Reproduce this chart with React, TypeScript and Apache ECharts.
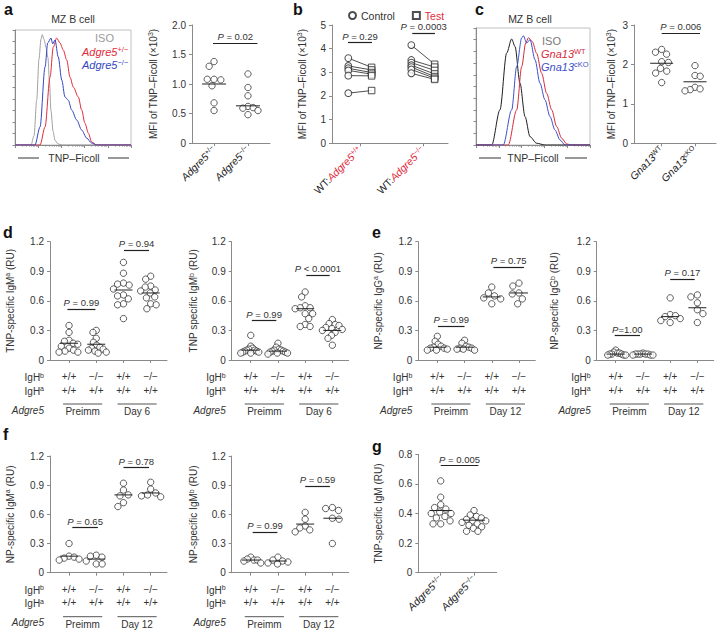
import React, { useEffect, useRef } from 'react';
import * as echarts from 'echarts';

const FONT = '"Liberation Sans", Arial, Helvetica, sans-serif';
const AXIS = '#8a8a8a';
const TXT = '#333333';
const INK = '#222222';
const RED = '#e02a3a';
const BLUE = '#3346c2';

// ---------- histogram data (x: % of channel range, y: % of mode) ----------
const histA_iso = [[0,0],[13.8,0],[16.4,8],[18.7,39],[20.7,75],[22.4,92],[23.5,96],[25,92],[26.7,85],[28.4,76],[29.7,55],[31,30],[32.8,12],[34.5,4],[37,1],[40.5,0],[100,0]];
const histA_het = [[0,0],[21.6,0],[25.9,15.7],[30.2,59],[33,85],[35.9,93],[38.8,88.7],[41.6,82.6],[44.6,74],[47.4,59],[50.3,50.4],[54.6,41.7],[57.5,30.4],[60.3,19],[63.2,10.4],[66.1,2.6],[70.4,0],[100,0]];
const histA_ko = [[0,0],[17.2,0],[21.6,15.7],[25.9,67.8],[28.2,88.7],[31,93],[32.5,88],[34.5,91.3],[37.3,76.5],[40.3,56.5],[43.1,41.7],[45.9,39],[48.9,30.4],[53.2,21.7],[57.5,13],[61.8,6],[66.1,1.7],[70.4,0],[100,0]];
const histC_iso = [[0,0],[13.8,0],[21,30],[26.9,78.6],[31.3,90.6],[34.2,84.2],[38.6,52.9],[43,24.3],[47.4,7.1],[53.2,1.5],[60.5,0],[100,0]];
const histC_wt = [[0,0],[28.3,0],[35.7,30],[40.1,67.1],[43.6,87.1],[46,91.7],[49.4,88.3],[53.2,78.4],[57.6,61.3],[62,44.1],[66.4,30],[70.8,15.7],[75.2,5.7],[79.6,0.9],[84,0],[100,0]];
const histC_cko = [[0,0],[23.9,0],[31.3,30],[35.7,67.1],[40.1,91.5],[41.5,93.4],[44.5,87.1],[47.4,90],[51.8,72.8],[56.1,52.9],[60.5,38.6],[64.9,24.3],[69.3,12.8],[73.7,4.3],[78.1,0],[100,0]];

// ---------- panel a ----------
const aLabels = ['{i|Adgre5}{is|+/−}', '{i|Adgre5}{is|−/−}'];
const aHet = [1.38, 1.30, 1.08, 1.07, 1.08, 0.97, 0.68, 0.55];
const aKo = [1.17, 0.94, 0.80, 0.62, 0.60, 0.59, 0.55, 0.48];
const aMeans = [1.0, 0.63];

// ---------- panel b (paired) ----------
const bLabels = ['{k|WT:}{r|Adgre5}{rs|+/+}', '{k|WT:}{r|Adgre5}{rs|−/−}'];
const bCtrl1 = [3.60, 3.27, 3.17, 3.08, 2.86, 2.12];
const bTest1 = [3.21, 3.10, 2.99, 2.92, 2.85, 2.23];
const bCtrl2 = [4.15, 3.52, 3.41, 3.30, 3.22, 3.12, 2.96];
const bTest2 = [3.34, 3.22, 3.08, 2.93, 2.82, 2.75, 2.70];

// ---------- panel c ----------
const cLabels = ['{i|Gna13}{is|WT}', '{i|Gna13}{is|cKO}'];
const cWt = [2.38, 2.31, 2.26, 2.07, 2.05, 1.90, 1.83, 1.78, 1.54];
const cKo = [1.97, 1.72, 1.70, 1.42, 1.38, 1.36, 1.33];
const cMeans = [2.03, 1.56];

// ---------- table rows ----------
const igHb = ['+/+', '−/−', '+/+', '−/−'];
const igHa = ['+/+', '+/+', '+/+', '+/+'];
const timesD = ['Preimm', 'Day 6'];
const times12 = ['Preimm', 'Day 12'];

// ---------- panel d ----------
const d1Pre = [0.35, 0.28, 0.20, 0.19, 0.17, 0.16, 0.14, 0.12, 0.10, 0.09, 0.08, 0.08];
const d1PreKo = [0.30, 0.28, 0.22, 0.18, 0.15, 0.13, 0.12, 0.11, 0.10, 0.09, 0.08, 0.07];
const d1Day = [0.99, 0.88, 0.78, 0.77, 0.76, 0.72, 0.66, 0.65, 0.62, 0.57, 0.56, 0.42];
const d1DayKo = [0.85, 0.82, 0.75, 0.74, 0.71, 0.70, 0.68, 0.64, 0.63, 0.57, 0.56, 0.52];
const d1Means = [0.17, 0.16, 0.71, 0.68];
const d2Pre = [0.25, 0.14, 0.12, 0.11, 0.10, 0.10, 0.09, 0.09, 0.08, 0.08, 0.07, 0.07];
const d2PreKo = [0.17, 0.13, 0.11, 0.10, 0.10, 0.09, 0.09, 0.08, 0.08, 0.07, 0.07, 0.06];
const d2Day = [0.69, 0.64, 0.55, 0.53, 0.53, 0.52, 0.47, 0.47, 0.42, 0.36, 0.34, 0.34];
const d2DayKo = [0.41, 0.37, 0.36, 0.35, 0.33, 0.32, 0.31, 0.30, 0.28, 0.25, 0.22, 0.15];
const d2Means = [0.10, 0.09, 0.52, 0.30];

// ---------- panel e ----------
const e1Pre = [0.24, 0.19, 0.16, 0.14, 0.13, 0.12, 0.12, 0.11, 0.10, 0.10];
const e1PreKo = [0.20, 0.17, 0.14, 0.13, 0.12, 0.12, 0.11, 0.11, 0.10];
const e1Day = [0.74, 0.68, 0.65, 0.63, 0.62, 0.57];
const e1DayKo = [0.78, 0.75, 0.68, 0.67, 0.62, 0.57];
const e1Means = [0.13, 0.13, 0.64, 0.68];
const e2Pre = [0.10, 0.08, 0.07, 0.07, 0.06, 0.06, 0.06, 0.05, 0.05, 0.05];
const e2PreKo = [0.07, 0.06, 0.06, 0.06, 0.06, 0.06, 0.05, 0.05, 0.05];
const e2Day = [0.63, 0.46, 0.45, 0.44, 0.42, 0.40, 0.38];
const e2DayKo = [0.66, 0.64, 0.58, 0.51, 0.47, 0.38];
const e2Means = [0.06, 0.06, 0.44, 0.53];

// ---------- panel f ----------
const f1Pre = [0.30, 0.17, 0.16, 0.15, 0.14, 0.13];
const f1PreKo = [0.18, 0.17, 0.16, 0.12, 0.09, 0.09];
const f1Day = [0.92, 0.85, 0.80, 0.79, 0.72, 0.68];
const f1DayKo = [0.93, 0.86, 0.82, 0.80, 0.79, 0.78];
const f1Means = [0.17, 0.14, 0.80, 0.82];
const f2Pre = [0.16, 0.14, 0.13, 0.13, 0.12, 0.10];
const f2PreKo = [0.16, 0.13, 0.12, 0.11, 0.10, 0.09];
const f2Day = [0.62, 0.55, 0.48, 0.46, 0.44, 0.42];
const f2DayKo = [0.67, 0.66, 0.64, 0.56, 0.55, 0.30];
const f2Means = [0.13, 0.12, 0.50, 0.56];

// ---------- panel g ----------
const gLabels = ['{i|Adgre5}{is|+/−}', '{i|Adgre5}{is|−/−}'];
const gHet = [0.62, 0.51, 0.46, 0.44, 0.43, 0.41, 0.40, 0.40, 0.38, 0.37, 0.35, 0.33, 0.33];
const gKo = [0.42, 0.39, 0.38, 0.37, 0.36, 0.35, 0.35, 0.34, 0.33, 0.32, 0.31, 0.30, 0.28, 0.28];
const gMeans = [0.42, 0.355];

const RICH: any = {
  n: { fontFamily: FONT, fontSize: 10, color: TXT, lineHeight: 12 },
  s: { fontFamily: FONT, fontSize: 7, color: TXT, lineHeight: 7, verticalAlign: 'top' },
  i: { fontFamily: FONT, fontSize: 10.5, color: INK, fontStyle: 'italic', lineHeight: 12 },
  is: { fontFamily: FONT, fontSize: 7, color: INK, lineHeight: 7, verticalAlign: 'top' },
  k: { fontFamily: FONT, fontSize: 10.5, color: INK, lineHeight: 12 },
  r: { fontFamily: FONT, fontSize: 10.5, color: RED, fontStyle: 'italic', lineHeight: 12 },
  rs: { fontFamily: FONT, fontSize: 7, color: RED, lineHeight: 7, verticalAlign: 'top' },
  t: { fontFamily: FONT, fontSize: 10, color: TXT, lineHeight: 13.5 },
  pi: { fontFamily: FONT, fontSize: 9.5, color: TXT, fontStyle: 'italic' },
  pn: { fontFamily: FONT, fontSize: 9.5, color: TXT },
};

type PVal = { x1: number; x2: number; y: number; t: string };
type Panel = {
  left: number; top: number; width: number; height: number;
  xMin: number; xMax: number; yMax: number; yInt: number; yDec: number;
  groups: number[][]; means: number[]; hw: number; spread: number;
  yName: string; nameGap: number; labels: string[]; rotate: number; margin: number;
  pvals: PVal[]; paired?: boolean; times?: string[];
};

const MFI = '{n|MFI of TNP–Ficoll (×10}{s|3}{n|)}';
const tableLabels = igHb.map((b, i) => `{t|${b}}\n{t|${igHa[i]}}`);

const P4 = { width: 117, xMin: -0.7, xMax: 3.6, yMax: 1.2, yInt: 0.3, yDec: 1, hw: 9, spread: 10, rotate: 0, margin: 10, labels: tableLabels };

const panels: Panel[] = [
  { left: 192, top: 25, width: 78, height: 118, xMin: -0.65, xMax: 1.65, yMax: 2, yInt: 0.5, yDec: 1,
    groups: [aHet, aKo], means: aMeans, hw: 12, spread: 10, yName: MFI, nameGap: 33, labels: aLabels, rotate: 45, margin: 5,
    pvals: [{ x1: -0.03, x2: 1.28, y: 1.695, t: ' = 0.02' }] },
  { left: 332, top: 25, width: 116, height: 118.3, xMin: -0.444, xMax: 1.397, yMax: 5, yInt: 1, yDec: 0,
    groups: [], means: [], hw: 0, spread: 0, yName: MFI, nameGap: 24, labels: bLabels, rotate: 45, margin: 5, paired: true,
    pvals: [{ x1: -0.19, x2: 0.19, y: 4.25, t: ' = 0.29' }, { x1: 0.83, x2: 1.19, y: 4.65, t: ' = 0.0003' }] },
  { left: 634, top: 25, width: 82, height: 118.3, xMin: -0.83, xMax: 1.63, yMax: 3, yInt: 1, yDec: 0,
    groups: [cWt, cKo], means: cMeans, hw: 11.5, spread: 10, yName: MFI, nameGap: 17, labels: cLabels, rotate: 45, margin: 5,
    pvals: [{ x1: 0, x2: 1.15, y: 2.79, t: ' = 0.006' }] },
  { ...P4, left: 50, top: 241.7, height: 118.3, groups: [d1Pre, d1PreKo, d1Day, d1DayKo], means: d1Means,
    yName: '{n|TNP-specific IgM}{s|a}{n| (RU)}', nameGap: 34, times: timesD,
    pvals: [{ x1: -0.06, x2: 0.97, y: 0.514, t: ' = 0.99' }, { x1: 2.02, x2: 2.94, y: 1.116, t: ' = 0.94' }] },
  { ...P4, left: 231.7, top: 241.7, height: 118.3, groups: [d2Pre, d2PreKo, d2Day, d2DayKo], means: d2Means,
    yName: '{n|TNP specific IgM}{s|b}{n| (RU)}', nameGap: 32, times: timesD,
    pvals: [{ x1: 0.04, x2: 0.94, y: 0.399, t: ' = 0.99' }, { x1: 2.04, x2: 2.9, y: 0.862, t: ' < 0.0001' }] },
  { ...P4, left: 418.3, top: 241.7, height: 118.3, groups: [e1Pre, e1PreKo, e1Day, e1DayKo], means: e1Means,
    yName: '{n|NP-specific IgG}{s|a}{n| (RU)}', nameGap: 34, times: times12,
    pvals: [{ x1: 0.02, x2: 1.0, y: 0.345, t: ' = 0.99' }, { x1: 2.06, x2: 3.18, y: 0.94, t: ' = 0.75' }] },
  { ...P4, left: 596.7, top: 241.7, height: 118.3, groups: [e2Pre, e2PreKo, e2Day, e2DayKo], means: e2Means,
    yName: '{n|NP-specific IgG}{s|b}{n| (RU)}', nameGap: 36, times: times12,
    pvals: [{ x1: -0.04, x2: 0.89, y: 0.246, t: '=1.00' }, { x1: 2.0, x2: 2.9, y: 0.822, t: ' = 0.17' }] },
  { ...P4, left: 50, top: 456, height: 116.7, groups: [f1Pre, f1PreKo, f1Day, f1DayKo], means: f1Means,
    yName: '{n|NP-specific IgM}{s|a}{n| (RU)}', nameGap: 34, times: times12,
    pvals: [{ x1: 0.12, x2: 1.06, y: 0.463, t: ' = 0.65' }, { x1: 2.0, x2: 2.94, y: 1.08, t: ' = 0.78' }] },
  { ...P4, left: 231.7, top: 456, height: 116.7, groups: [f2Pre, f2PreKo, f2Day, f2DayKo], means: f2Means,
    yName: '{n|NP-specific IgM}{s|b}{n| (RU)}', nameGap: 32, times: times12,
    pvals: [{ x1: 0.07, x2: 0.98, y: 0.415, t: ' = 0.99' }, { x1: 2.0, x2: 2.91, y: 0.892, t: ' = 0.59' }] },
  { left: 418.3, top: 454.3, width: 78.4, height: 118.4, xMin: -0.672, xMax: 1.68, yMax: 0.8, yInt: 0.2, yDec: 1,
    groups: [gHet, gKo], means: gMeans, hw: 11, spread: 12, yName: '{n|TNP-specific IgM (RU)}', nameGap: 34, labels: gLabels, rotate: 45, margin: 5,
    pvals: [{ x1: 0, x2: 1.13, y: 0.723, t: ' = 0.005' }] },
];

// beeswarm layout: pixel-space offsets (compressed to maxW px), returned in x-axis units
function swarm(values: number[], pxPerY: number, pxPerX: number, D: number, maxW: number): number[] {
  const order = values.map((_, i) => i).sort((p, q) => values[q] - values[p]);
  const placed: { x: number; y: number }[] = [];
  const px = new Array(values.length).fill(0);
  order.forEach((idx, n) => {
    const y = values[idx] * pxPerY;
    const cands = [0];
    placed.forEach((p) => {
      const dy = Math.abs(p.y - y);
      if (dy < D) { const dx = Math.sqrt(D * D - dy * dy); cands.push(p.x + dx, p.x - dx); }
    });
    const sgn = n % 2 === 0 ? 1 : -1;
    cands.sort((a, b) => Math.abs(a) - Math.abs(b) || sgn * (b - a));
    let best = 0;
    for (const c of cands) {
      if (placed.every((p) => (p.x - c) ** 2 + (p.y - y) ** 2 >= D * D - 1e-6)) { best = c; break; }
    }
    placed.push({ x: best, y });
    px[idx] = best;
  });
  const m = Math.max(...px.map(Math.abs), 1e-9);
  const k = m > maxW ? maxW / m : 1;
  return px.map((v) => (v * k) / pxPerX);
}

function buildOption() {
  const grid: any[] = [], xAxis: any[] = [], yAxis: any[] = [], series: any[] = [];
  panels.forEach((p, k) => {
    grid.push({ left: p.left, top: p.top, width: p.width, height: p.height });
    const ticks = p.labels.map((_, i) => i);
    xAxis.push({
      type: 'value', gridIndex: k, min: p.xMin, max: p.xMax,
      axisLine: { show: true, onZero: false, lineStyle: { color: AXIS, width: 1 } },
      axisTick: { show: true, customValues: ticks, length: 3, lineStyle: { color: AXIS } },
      axisLabel: { show: true, customValues: ticks, rotate: p.rotate, margin: p.margin, rich: RICH,
        formatter: (v: number) => p.labels[Math.round(v)] ?? '' },
      splitLine: { show: false },
    });
    yAxis.push({
      type: 'value', gridIndex: k, min: 0, max: p.yMax, interval: p.yInt,
      axisLine: { show: true, onZero: false, lineStyle: { color: AXIS, width: 1 } },
      axisTick: { show: true, length: 3, lineStyle: { color: AXIS } },
      axisLabel: { fontSize: 10, color: TXT, fontFamily: FONT, margin: 6,
        formatter: (v: number) => (Math.abs(v) < 1e-9 ? '0' : v.toFixed(p.yDec)) },
      splitLine: { show: false },
      name: p.yName, nameLocation: 'middle', nameGap: p.nameGap,
      nameTextStyle: { rich: RICH, fontSize: 10, color: TXT, fontFamily: FONT },
    });
    const markLine = {
      silent: true, symbol: ['none', 'none'], animation: false,
      lineStyle: { color: INK, width: 1.2, type: 'solid' },
      emphasis: { disabled: true },
      label: { show: true, position: 'insideMiddleTop', distance: 1.5, rich: RICH,
        formatter: (prm: any) => `{pi|P}{pn|${p.pvals[prm.dataIndex].t}}` },
      data: p.pvals.map((q) => [{ coord: [q.x1, q.y] }, { coord: [q.x2, q.y] }]),
    };
    const pxPerY = p.height / p.yMax;
    const pxPerX = p.width / (p.xMax - p.xMin);
    if (p.paired) {
      const dx = 0.185;
      const ctrl = [...bCtrl1.map((v) => [0 - dx, v]), ...bCtrl2.map((v) => [1 - dx, v])];
      const test = [...bTest1.map((v) => [0 + dx, v]), ...bTest2.map((v) => [1 + dx, v])];
      series.push({
        type: 'lines', coordinateSystem: 'cartesian2d', xAxisIndex: k, yAxisIndex: k, silent: true, z: 1,
        lineStyle: { color: INK, width: 0.8, opacity: 1 },
        data: ctrl.map((c, i) => ({ coords: [c, test[i]] })),
      });
      series.push({ name: 'Control', type: 'scatter', xAxisIndex: k, yAxisIndex: k, z: 3, silent: true,
        symbol: 'circle', symbolSize: 6.8, itemStyle: { color: '#fff', borderColor: INK, borderWidth: 1 },
        data: ctrl, markLine });
      series.push({ name: 'Test', type: 'scatter', xAxisIndex: k, yAxisIndex: k, z: 3, silent: true,
        symbol: 'rect', symbolSize: 6.5, itemStyle: { color: '#fff', borderColor: INK, borderWidth: 1 },
        data: test });
    } else {
      const pts: number[][] = [];
      p.groups.forEach((vals, gi) => {
        const offs = swarm(vals, pxPerY, pxPerX, 6.8, p.spread);
        vals.forEach((v, j) => pts.push([gi + offs[j], v]));
      });
      series.push({ type: 'scatter', xAxisIndex: k, yAxisIndex: k, z: 3, silent: true,
        symbol: 'circle', symbolSize: 6.4, itemStyle: { color: '#fff', borderColor: INK, borderWidth: 0.9 },
        data: pts, markLine });
      const hw = p.hw;
      series.push({
        type: 'custom', xAxisIndex: k, yAxisIndex: k, z: 5, silent: true,
        data: p.means.map((m, i) => [i, m]),
        renderItem: (_: any, api: any) => {
          const c = api.coord([api.value(0), api.value(1)]);
          return { type: 'line', shape: { x1: c[0] - hw, y1: c[1], x2: c[0] + hw, y2: c[1] }, style: { stroke: INK, lineWidth: 1 } };
        },
      });
    }
  });

  // histograms
  const hists = [
    { left: 15, top: 30, width: 116, height: 115, curves: [[histA_iso, '#a0a0a0'], [histA_het, RED], [histA_ko, BLUE]] },
    { left: 476, top: 28, width: 114, height: 117, curves: [[histC_iso, '#1e1e1e'], [histC_wt, '#d52b3c'], [histC_cko, '#3b50c8']] },
  ];
  hists.forEach((h) => {
    const g = grid.length;
    grid.push({ left: h.left, top: h.top, width: h.width, height: h.height, show: true, borderColor: '#b0b0b0', borderWidth: 0.8 });
    xAxis.push({ type: 'log', gridIndex: g, min: 1, max: 100000, logBase: 10, position: 'bottom',
      axisLine: { show: true, onZero: false, lineStyle: { color: AXIS } },
      axisTick: { show: true, length: 3, lineStyle: { color: AXIS } },
      minorTick: { show: true, splitNumber: 9, length: 1.5, lineStyle: { color: AXIS } },
      axisLabel: { show: false }, splitLine: { show: false } });
    const xLin = xAxis.length;
    xAxis.push({ type: 'value', gridIndex: g, min: 0, max: 100, show: false, position: 'bottom' });
    const yi = yAxis.length;
    yAxis.push({ type: 'value', gridIndex: g, min: 0, max: 100, interval: 10,
      axisLine: { show: true, onZero: false, lineStyle: { color: AXIS } },
      axisTick: { show: true, length: 2.5, lineStyle: { color: AXIS } },
      axisLabel: { show: false }, splitLine: { show: false } });
    h.curves.forEach(([data, color]: any) => {
      series.push({ type: 'line', xAxisIndex: xLin, yAxisIndex: yi, data, symbol: 'none', silent: true,
        smooth: 0.3, smoothMonotone: 'x', lineStyle: { color, width: 1 }, z: 2 });
    });
  });

  return {
    animation: false,
    backgroundColor: '#ffffff',
    textStyle: { fontFamily: FONT },
    legend: {
      left: 343, top: 5, itemWidth: 7, itemHeight: 7, itemGap: 17, selectedMode: false,
      textStyle: { fontSize: 10.5, color: TXT, fontFamily: FONT },
      data: [{ name: 'Control', icon: 'circle' }, { name: 'Test', icon: 'rect', textStyle: { color: RED } }],
    },
    grid, xAxis, yAxis, series,
  };
}

function buildGraphic(chart: any) {
  const els: any[] = [];
  const txt = (x: number, y: number, text: string, extra: any = {}) => els.push({
    type: 'text', x, y, silent: true,
    style: { text, fill: TXT, fontSize: 10, fontFamily: FONT, align: 'center', verticalAlign: 'middle', ...extra },
  });
  const line = (x1: number, y1: number, x2: number, y2: number, stroke = '#555', lineWidth = 1) => els.push({
    type: 'line', silent: true, shape: { x1, y1, x2, y2 }, style: { stroke, lineWidth },
  });
  const GR = (fill: string, size = 11) => ({
    m: { fill, fontSize: size, fontStyle: 'italic', fontFamily: FONT, lineHeight: 13 },
    u: { fill, fontSize: size * 0.68, fontFamily: FONT, lineHeight: 8, verticalAlign: 'top' },
    b: { fill: TXT, fontSize: 10, fontFamily: FONT, lineHeight: 12 },
    bs: { fill: TXT, fontSize: 7, fontFamily: FONT, lineHeight: 7, verticalAlign: 'top' },
  });

  // panel letters
  const letters: [string, number, number][] = [['a', 4, 1], ['b', 293, 1], ['c', 475, 1], ['d', 3, 224], ['e', 372, 224], ['f', 3, 426], ['g', 372, 438]];
  letters.forEach(([l, x, y]) => els.push({ type: 'text', x, y, silent: true,
    style: { text: l, fill: '#111', fontSize: 16, fontWeight: 'bold', fontFamily: FONT, align: 'left', verticalAlign: 'top' } }));

  // histogram titles / legends / captions
  txt(73, 19, 'MZ B cell', { fontSize: 10.5 });
  txt(530, 19, 'MZ B cell', { fontSize: 10.5 });
  txt(95, 37.5, 'ISO', { fill: '#9a9a9a', fontSize: 11, align: 'left' });
  txt(82, 52, '{m|Adgre5}{u|+/−}', { align: 'left', rich: GR(RED) });
  txt(82, 65, '{m|Adgre5}{u|−/−}', { align: 'left', rich: GR(BLUE) });
  txt(542, 41, 'ISO', { fill: '#777', fontSize: 11, align: 'left' });
  txt(541, 54, '{m|Gna13}{u|WT}', { align: 'left', rich: GR('#d52b3c') });
  txt(541, 67, '{m|Gna13}{u|cKO}', { align: 'left', rich: GR('#3b50c8') });
  txt(74, 158, 'TNP–Ficoll', { fontSize: 10.5 });
  line(18, 158, 39, 158, '#555', 1.2); line(108, 158, 129, 158, '#555', 1.2);
  txt(533, 158, 'TNP–Ficoll', { fontSize: 10.5 });
  line(479, 158, 501, 158, '#555', 1.2); line(565, 158, 587, 158, '#555', 1.2);

  // genotype tables
  panels.forEach((p, k) => {
    if (!p.times) return;
    const o = chart.convertToPixel({ gridIndex: k }, [p.xMin, 0]);
    const x0 = o[0] - 6, y0 = o[1];
    txt(x0, y0 + 17.5, '{b|IgH}{bs|b}', { align: 'right', rich: GR(TXT) });
    txt(x0, y0 + 31, '{b|IgH}{bs|a}', { align: 'right', rich: GR(TXT) });
    txt(x0, y0 + 50, 'Adgre5', { align: 'right', fontStyle: 'italic' });
    p.times.forEach((t, j) => {
      const xa = chart.convertToPixel({ gridIndex: k }, [2 * j - 0.22, 0])[0];
      const xb = chart.convertToPixel({ gridIndex: k }, [2 * j + 1.22, 0])[0];
      line(xa, y0 + 44, xb, y0 + 44, '#555', 1);
      txt((xa + xb) / 2, y0 + 51.5, t);
    });
  });
  return els;
}

export default function App() {
  const ref = useRef<HTMLDivElement>(null);
  useEffect(() => {
    if (!ref.current) return;
    const chart = echarts.init(ref.current, undefined, { renderer: 'svg' });
    chart.setOption(buildOption() as any);
    chart.setOption({ graphic: { elements: buildGraphic(chart) } } as any);
    return () => chart.dispose();
  }, []);
  return <div ref={ref} style={{ position: 'fixed', left: 0, top: 0, width: 718, height: 632, background: '#fff' }} />;
}
